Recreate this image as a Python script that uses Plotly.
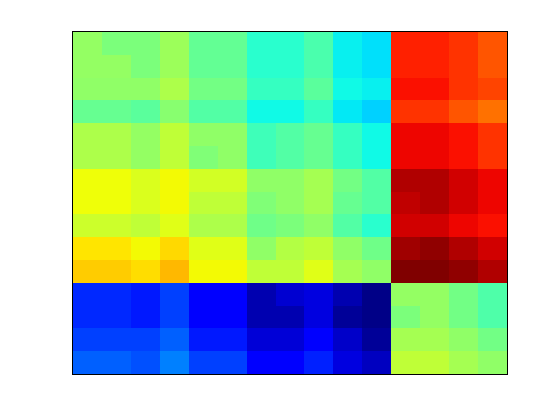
import numpy as np
import plotly.graph_objects as go

# cell values (percent of colour range), rows top to bottom, 15 columns each
row00 = [53, 50, 50, 54, 47, 47, 40, 40, 44, 36, 34.5, 87.6, 87.6, 85.6, 82]
row01 = [53, 53, 50, 54, 47, 47, 40, 40, 44, 36, 34.5, 87.6, 87.6, 85.6, 82]
row02 = [52.5, 52.5, 52.5, 56, 49, 49, 41.5, 41.5, 46, 37, 36, 89.3, 89.3, 85.6, 83.8]
row03 = [47.4, 47.4, 46, 51.5, 45, 45, 37, 37, 41.5, 35.3, 33, 85.6, 85.6, 82, 79]
row04 = [56, 56, 53, 58.3, 52.5, 52.5, 42.5, 45, 47.4, 41.5, 37, 90.5, 90.5, 89.3, 85.6]
row05 = [56, 56, 53, 58.3, 50.5, 52.5, 42.5, 45, 47.4, 41.5, 37, 90.5, 90.5, 89.3, 85.6]
row06 = [64, 64, 61.5, 64.5, 60.5, 60.5, 52.5, 52.5, 55, 49, 45, 95.8, 95.8, 93, 90.5]
row07 = [64, 64, 61.5, 64.5, 58.3, 58.3, 50.5, 52.5, 55, 47.4, 45, 94.4, 95.8, 93, 90.5]
row08 = [59.8, 59.8, 58.3, 62.2, 56, 56, 48.5, 50, 52.5, 45, 40, 93, 93, 90.5, 89.3]
row09 = [66.7, 66.7, 64.5, 68, 62.2, 62.2, 52.5, 56.8, 58.3, 52.5, 48.5, 97.2, 98.6, 95.8, 93]
row10 = [69.4, 69.4, 67.6, 71.5, 64.5, 64.5, 58.3, 58.3, 62.2, 55, 52.5, 100, 100, 98.6, 95.8]
row11 = [16.4, 16.4, 14.9, 18.75, 12, 12, 4.2, 7, 8.3, 4.2, 0.7, 53, 53, 48.9, 44.5]
row12 = [16.4, 16.4, 14.9, 18.75, 12, 12, 4.2, 4.2, 8.3, 2.1, 0.7, 50, 53, 48.9, 44.5]
row13 = [18.75, 18.75, 18.75, 21.9, 14.9, 14.9, 7.6, 7.6, 11.5, 6.3, 2.1, 55, 55, 52.5, 48.9]
row14 = [21.9, 21.9, 20.3, 25, 18.75, 18.75, 11.5, 11.5, 15.6, 8.3, 5.6, 58.3, 58.3, 55, 52.5]

rows = [row00, row01, row02, row03, row04, row05, row06, row07,
        row08, row09, row10, row11, row12, row13, row14]
z = np.array(rows)

# matplotlib "jet" colour map, sampled
seg_r = [(0, 0), (0.35, 0), (0.66, 1), (0.89, 1), (1, 0.5)]
seg_g = [(0, 0), (0.125, 0), (0.375, 1), (0.64, 1), (0.91, 0), (1, 0)]
seg_b = [(0, 0.5), (0.11, 1), (0.34, 1), (0.65, 0), (1, 0)]

def interp(seg, t):
    xs = [p[0] for p in seg]
    ys = [p[1] for p in seg]
    return float(np.interp(t, xs, ys))

jet = []
for t in np.linspace(0, 1, 201):
    r = round(255 * interp(seg_r, t))
    g = round(255 * interp(seg_g, t))
    b = round(255 * interp(seg_b, t))
    jet.append([float(t), f"rgb({r},{g},{b})"])

n = z.shape[1]
fig = go.Figure(go.Heatmap(
    z=z,
    x=list(range(n)),
    y=list(range(len(rows))),
    colorscale=jet,
    zmin=0, zmax=100,
    showscale=False,
    hoverinfo="z",
))

axis_style = dict(showline=True, linecolor="black", linewidth=1.2, mirror=True,
                  showticklabels=False, ticks="", showgrid=False, zeroline=False)
fig.update_xaxes(range=[-0.5, n - 0.5], **axis_style)
fig.update_yaxes(range=[len(rows) - 0.5, -0.5], **axis_style)

fig.update_layout(
    width=544, height=404,
    margin=dict(l=65, r=45, t=24, b=38),
    paper_bgcolor="white",
    plot_bgcolor="white",
)

fig.write_html("out.html")
